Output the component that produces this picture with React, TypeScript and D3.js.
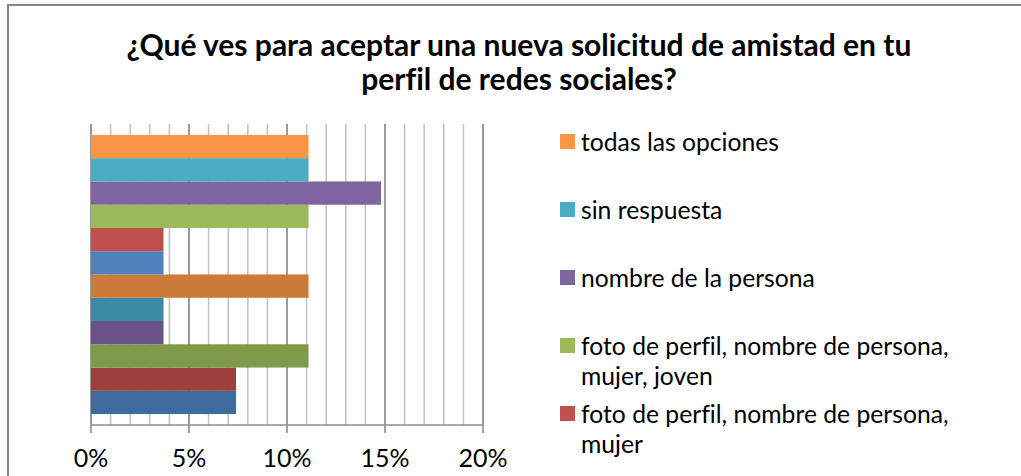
import React from "react";
import * as d3 from "d3";

// series listed bottom bar -> top bar
const SERIES_NAMES = [
  "",
  "",
  "",
  "",
  "",
  "",
  "",
  "foto de perfil, nombre de persona, mujer",
  "foto de perfil, nombre de persona, mujer, joven",
  "nombre de la persona",
  "sin respuesta",
  "todas las opciones",
];
const SERIES_VALUES = [0.074, 0.074, 0.111, 0.037, 0.037, 0.111, 0.037, 0.037, 0.111, 0.148, 0.111, 0.111];
const SERIES_COLORS = [
  "#3E6A9E",
  "#9C3F3D",
  "#7F9A48",
  "#69528A",
  "#3B8BA3",
  "#CB7B38",
  "#4F81BD",
  "#C0504D",
  "#9BBB59",
  "#8064A2",
  "#4BACC6",
  "#F79646",
];
const MAJOR_TICKS = [0, 0.05, 0.1, 0.15, 0.2];
const MINOR_TICKS = d3.range(0, 21).map((d) => d / 100);
const TITLE = [
  "¿Qué ves para aceptar una nueva solicitud de amistad en tu",
  "perfil de redes sociales?",
];

const W = 1021;
const H = 476;
const PLOT = { left: 91, right: 483, top: 124, bottom: 425 };
const FONT = "Lato, 'Open Sans', sans-serif";
const LEGEND = { x: 560, top: 134, step: 68, box: 15, wrap: 400, size: 24.7, line: 30 };

function wrapText(text: string, maxWidth: number, font: string): string[] {
  const ctx = document.createElement("canvas").getContext("2d")!;
  ctx.font = font;
  const words = text.split(" ");
  const lines: string[] = [];
  let cur = "";
  for (const w of words) {
    const test = cur ? cur + " " + w : w;
    if (ctx.measureText(test).width > maxWidth && cur) {
      lines.push(cur);
      cur = w;
    } else cur = test;
  }
  if (cur) lines.push(cur);
  return lines;
}

export default function App() {
  const ids = SERIES_VALUES.map((_, i) => String(i));
  const x = d3.scaleLinear().domain([0, 0.2]).range([PLOT.left, PLOT.right]);
  const y = d3
    .scaleBand()
    .domain(ids)
    .range([PLOT.bottom, PLOT.top])
    .paddingInner(0)
    .paddingOuter(0.47);

  const legendItems = SERIES_NAMES.map((name, i) => ({ name, i }))
    .reverse()
    .map((d, k) => ({ ...d, k }))
    .filter((d) => d.name);

  const legendY = d3.scaleLinear().domain([0, 1]).range([LEGEND.top, LEGEND.top + LEGEND.step]);

  return (
    <svg
      width={W}
      height={H}
      style={{ position: "absolute", left: 0, top: 0, background: "#fff", fontVariantLigatures: "none" }}
      fontFamily={FONT}
    >
      <rect x={8} y={5} width={W + 20} height={H + 20} fill="#fff" stroke="#868686" strokeWidth={2} />

      {TITLE.map((t, i) => (
        <text
          key={i}
          x={519}
          y={56 + i * 34}
          textAnchor="middle"
          fontSize={30}
          fontWeight="bold"
          fill="#000"
        >
          {t}
        </text>
      ))}

      {/* gridlines */}
      {MINOR_TICKS.map((t) => (
        <line
          key={"m" + t}
          x1={x(t)}
          x2={x(t)}
          y1={PLOT.top}
          y2={PLOT.bottom}
          stroke="#C4C4C4"
          strokeWidth={1.6}
        />
      ))}
      {MAJOR_TICKS.map((t) => (
        <line
          key={"M" + t}
          x1={x(t)}
          x2={x(t)}
          y1={PLOT.top}
          y2={PLOT.bottom + 8}
          stroke="#8C8C8C"
          strokeWidth={1.6}
        />
      ))}
      <line x1={PLOT.left} x2={PLOT.right} y1={PLOT.bottom} y2={PLOT.bottom} stroke="#8C8C8C" strokeWidth={1.6} />

      {/* bars */}
      {SERIES_VALUES.map((v, i) => (
        <rect
          key={i}
          x={x(0)}
          y={y(String(i))!}
          width={x(v) - x(0)}
          height={y.bandwidth()}
          fill={SERIES_COLORS[i]}
        />
      ))}

      {/* tick labels */}
      {MAJOR_TICKS.map((t) => (
        <text key={"l" + t} x={x(t)} y={467} textAnchor="middle" fontSize={25} fill="#000">
          {d3.format(".0%")(t)}
        </text>
      ))}

      {/* legend */}
      {legendItems.map((d) => {
        const top = legendY(d.k);
        const lines = wrapText(d.name, LEGEND.wrap, `${LEGEND.size}px ${FONT}`);
        return (
          <g key={d.i}>
            <rect x={LEGEND.x} y={top} width={LEGEND.box} height={LEGEND.box} fill={SERIES_COLORS[d.i]} />
            <text x={LEGEND.x + 21} y={top + LEGEND.box / 2 + 9} fontSize={LEGEND.size} fill="#000">
              {lines.map((l, j) => (
                <tspan key={j} x={LEGEND.x + 21} dy={j === 0 ? 0 : LEGEND.line}>
                  {l}
                </tspan>
              ))}
            </text>
          </g>
        );
      })}
    </svg>
  );
}
